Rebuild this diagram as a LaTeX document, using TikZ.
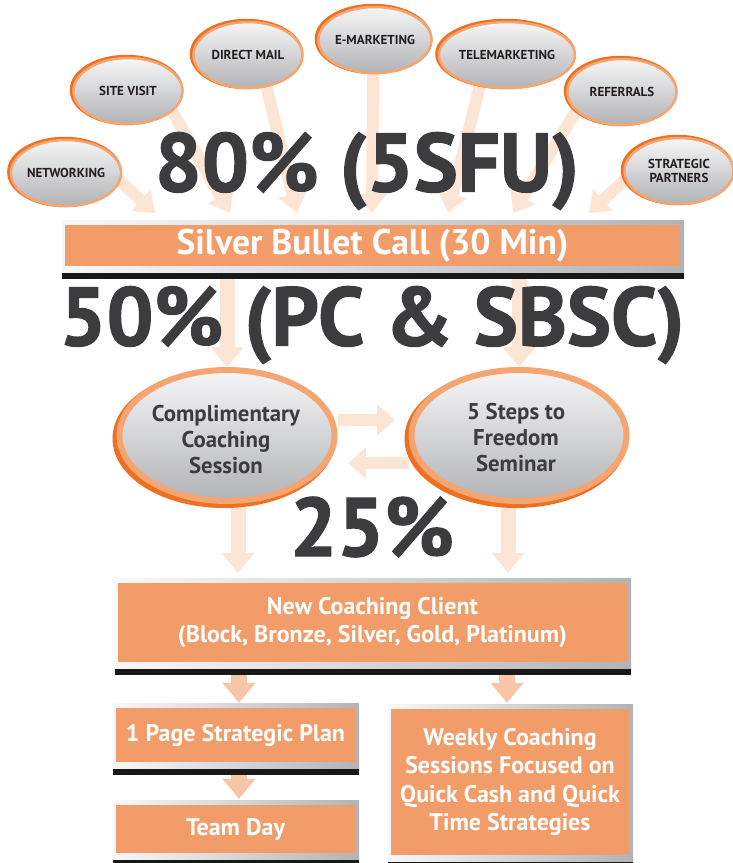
\documentclass[tikz,border=0pt]{standalone}
\usepackage{fontspec}
\setmainfont{PT Sans}
\newfontfamily\heavyfont{PT Sans}[BoldFeatures={FakeBold=1.4}]
\usetikzlibrary{arrows.meta,shapes.geometric,calc}

\definecolor{boxorange}{RGB}{242,156,105}
\definecolor{ringdark}{RGB}{238,112,35}
\definecolor{ringlight}{RGB}{245,165,112}
\definecolor{elltop}{RGB}{246,246,247}
\definecolor{ellbot}{RGB}{178,179,182}
\definecolor{paleflow}{RGB}{253,229,214}
\definecolor{softflow}{RGB}{247,198,166}
\definecolor{inkgray}{RGB}{60,60,62}
\definecolor{labelink}{RGB}{35,31,32}
\definecolor{framelight}{RGB}{248,248,249}
\definecolor{framedark}{RGB}{178,179,182}
\definecolor{barblack}{RGB}{24,24,24}

\pgfdeclarelayer{paper}
\pgfdeclarelayer{flows}
\pgfsetlayers{paper,flows,main}

% orange box with grey frame and black foot: name, x1, y1, x2, y2 (orange area), text
\newcommand{\orangebox}[6]{%
  \pgfmathsetmacro{\obW}{#4-#2}\pgfmathsetmacro{\obH}{#5-#3}%
  \pgfmathsetmacro{\obX}{(#2+#4)/2}\pgfmathsetmacro{\obY}{(#3+#5)/2}%
  \fill[left color=framelight, right color=framedark] (#2-3,#3-5) rectangle (#4+4,#5+7);
  \fill[barblack] (#2-3,#5+7) rectangle (#4+4,#5+13);
  \node[obox, minimum width=\obW pt, minimum height=\obH pt] (#1) at (\obX,\obY) {#6};
}

\begin{document}
\begin{tikzpicture}[x=1pt,y=-1pt,
  smallell/.style={ellipse, minimum width=109pt, minimum height=66pt, inner sep=0pt,
    draw=ringlight, line width=2.5pt, top color=elltop, bottom color=ellbot,
    preaction={draw=ringdark, line width=4.5pt, transform canvas={shift={(-1.5pt,1pt)}}},
    text=labelink, font=\bfseries\fontsize{13}{14.5}\selectfont, align=center},
  bigell/.style={ellipse, minimum width=215pt, minimum height=131pt, inner sep=0pt,
    draw=ringlight, line width=6pt, top color=elltop, bottom color=ellbot,
    preaction={draw=ringdark, line width=8pt, transform canvas={shift={(-3pt,-3pt)}}}},
  belltext/.style={text=inkgray, inner sep=0pt, align=center,
    font=\bfseries\fontsize{22.8}{26}\selectfont},
  obox/.style={fill=boxorange, inner sep=0pt, text=white, align=center,
    font=\bfseries\fontsize{24}{28.5}\selectfont},
  bigfig/.style={text=inkgray, inner sep=0pt, font=\heavyfont\bfseries\fontsize{83}{83}\selectfont},
  flowthin/.style={draw=paleflow, line width=12pt, shorten <=-10pt,
    -{Triangle[width=28pt,length=19pt]}},
  flowbig/.style={draw=paleflow, line width=15pt,
    -{Triangle[width=32pt,length=20pt]}},
  flowmid/.style={draw=paleflow, line width=12pt,
    -{Triangle[width=30pt,length=18pt]}},
  flowsoft/.style={draw=softflow, line width=16pt,
    -{Triangle[width=32pt,length=20pt]}}
]
\useasboundingbox (0,0) rectangle (732,863);
\begin{pgfonlayer}{paper}
  \fill[white] (0,0) rectangle (732,863);
\end{pgfonlayer}

% lead sources
\node[smallell] (net)   at (66,173)  {NETWORKING};
\node[smallell] (site)  at (128,91)  {SITE VISIT};
\node[smallell] (dmail) at (248,55)  {DIRECT MAIL};
\node[smallell] (emkt)  at (375,40)  {E-MARKETING};
\node[smallell] (tele)  at (507,55)  {TELEMARKETING};
\node[smallell] (refs)  at (622,92)  {REFERRALS};
\node[smallell] (strat) at (679,171) {STRATEGIC\\PARTNERS};

% tips of the lead arrows, just above the call bar
\coordinate (tA) at (155,213);
\coordinate (tB) at (230,213);
\coordinate (tC) at (297,213);
\coordinate (tD) at (372,213);
\coordinate (tE) at (448,213);
\coordinate (tF) at (513,213);
\coordinate (tG) at (589,213);

\orangebox{bar}{65}{225}{680}{266}{\fontsize{35.5}{35.5}\selectfont Silver Bullet Call (30 Min)}

% first meetings
\node[bigell] (compl) at (227,435.5) {};
\node[bigell] (steps) at (519,435.5) {};
\node[belltext] (complT) at (226,440) {Complimentary\\Coaching\\Session};
\node[belltext] (stepsT) at (516,438) {5 Steps to\\Freedom\\Seminar};

\orangebox{ncc}{118}{583}{627}{662}{New Coaching Client\\(Block, Bronze, Silver, Gold, Platinum)}
\orangebox{plan}{116}{708}{355}{762}{1 Page Strategic Plan}
\orangebox{team}{116}{805}{355}{853}{Team Day}
\orangebox{weekly}{391}{709}{629}{855}{Weekly Coaching\\Sessions Focused on\\Quick Cash and Quick\\Time Strategies}

% conversion rates
\node[bigfig] (p80) at (367,171) {80\% (5SFU)};
\node[bigfig] (p50) at (372,325) {50\% (PC \& SBSC)};
\node[bigfig] (p25) at (372,527) {25\%};

\coordinate (hR) at (0,420);
\coordinate (hL) at (0,463);
\coordinate (dL) at (238,0);
\coordinate (dR) at (508,0);
\coordinate (sL) at (239,0);
\coordinate (sR) at (507,0);

\begin{pgfonlayer}{flows}
  \draw[flowthin] (net.-9)    -- (tA);
  \draw[flowthin] (site.-25)  -- (tB);
  \draw[flowthin] (dmail.-60) -- (tC);
  \draw[flowthin] (emkt.-93)  -- (tD);
  \draw[flowthin] (tele.-131) -- (tE);
  \draw[flowthin] (refs.-157) -- (tF);
  \draw[flowthin] (strat.-171) -- (tG);

  \draw[flowbig] (bar.south -| compl.north) -- (compl.north);
  \draw[flowbig] (bar.south -| steps.north) -- (steps.north);

  \draw[flowmid, shorten >=13.5pt] (compl.east |- hR) -- (steps.west |- hR);
  \draw[flowmid, shorten >=10.5pt] (steps.west |- hL) -- (compl.east |- hL);

  \draw[flowbig, shorten <=-4pt, shorten >=10pt] (compl.south -| dL) -- (ncc.north -| dL);
  \draw[flowbig, shorten <=-4pt, shorten >=10pt] (steps.south -| dR) -- (ncc.north -| dR);

  \draw[flowsoft, shorten >=5pt] (ncc.south -| sL) -- (plan.north -| sL);
  \draw[flowsoft, shorten >=6pt] (ncc.south -| sR) -- (weekly.north -| sR);
  \draw[flowsoft, shorten >=6pt] (plan.south -| sL) -- (team.north -| sL);
\end{pgfonlayer}
\end{tikzpicture}
\end{document}
